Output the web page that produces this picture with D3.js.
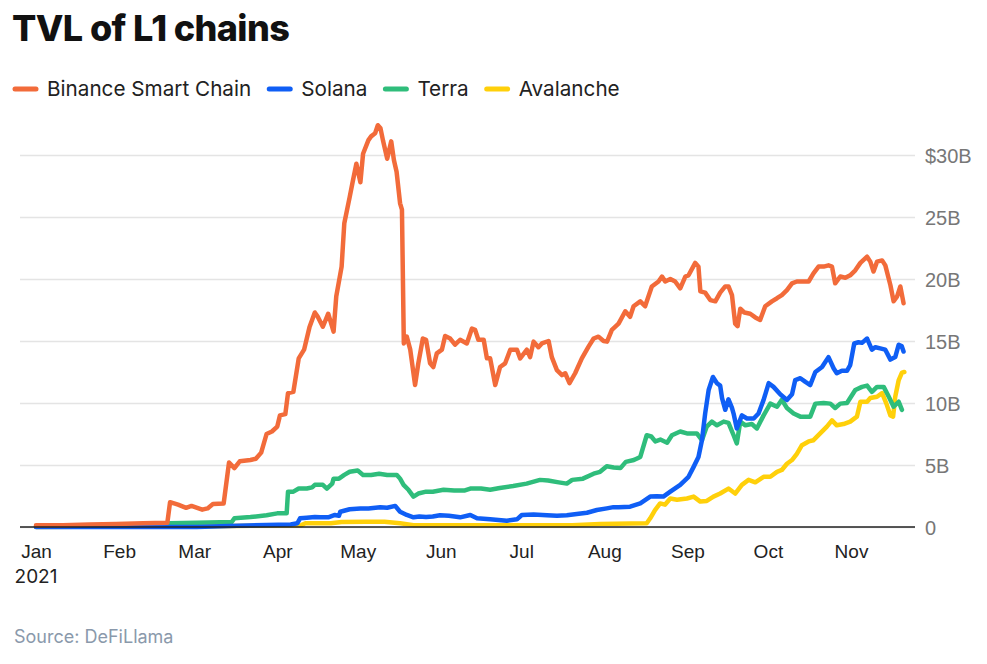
<!DOCTYPE html>
<html>
<head>
<meta charset="utf-8">
<script src="https://cdn.jsdelivr.net/npm/d3@7"></script>
<style>
  body { margin: 0; background: #fff; }
  svg { display: block; font-family: Inter, "Noto Sans", sans-serif; }
  .title { font-weight: 800; font-size: 36px; letter-spacing: -0.6px; fill: #111; }
  .legend text { font-size: 20.7px; fill: #222; }
  .axis--y text { font-size: 20px; fill: #777; }
  .axis--x text { font-size: 19px; fill: #222; }
  .source { font-size: 18px; fill: #8a99ab; }
</style>
</head>
<body>
<svg id="chart" width="987" height="664"></svg>
<script>
// TVL in $B, [day of 2021 (0 = Jan 1), value]
const bsc = [[0,0.15],[10,0.15],[20,0.2],[30,0.25],[40,0.3],[49,0.35],[50,2.0],[53,1.8],[56,1.55],[58,1.7],[62,1.4],[64,1.5],[66,1.85],[70,1.9],[72,5.2],[74,4.75],[76,5.3],[80,5.4],[82,5.5],[84,6.0],[86,7.5],[88,7.7],[90,8.1],[91,9.0],[93,9.1],[94,10.8],[96,10.9],[98,13.6],[100,14.3],[102,16.1],[104,17.3],[105,17.0],[107,16.15],[109,17.2],[111,15.75],[112,18.6],[114,21.0],[115,24.5],[117,26.6],[118,27.7],[119.5,29.3],[121,27.8],[122,30.1],[124,31.2],[125,31.5],[126.5,31.75],[127.5,32.4],[128.5,32.15],[129.5,31.1],[131,29.7],[132.5,31.1],[133.5,29.6],[134.5,28.65],[135.8,26.1],[136.5,25.6],[137.2,14.8],[138.3,15.35],[139.6,14.3],[141.4,11.45],[142.6,13.2],[144.3,15.2],[145.5,15.1],[147,13.2],[148.2,12.9],[149.5,14.0],[151.4,14.3],[152.6,15.4],[154.5,15.2],[156.3,14.7],[158.2,15.1],[160.7,14.8],[162.6,16.0],[163.8,15.9],[165,15.1],[167,15.1],[168.2,13.6],[169.4,13.6],[171.3,11.45],[173.1,12.9],[175,13.2],[176.9,14.3],[179.4,14.3],[180.6,13.6],[183.1,14.3],[184.3,13.7],[185.6,14.95],[187.4,14.5],[188.7,14.8],[191.2,15.0],[192.4,13.7],[194.3,12.65],[196.2,12.25],[197.4,12.4],[199,11.6],[201.1,12.4],[203.6,13.6],[206.1,14.55],[208,15.2],[209.8,15.35],[211.7,15.0],[213,14.95],[214.8,15.9],[217.3,16.4],[219.8,17.4],[221.6,16.95],[222.9,17.8],[225.4,18.2],[227.2,17.8],[229.7,19.4],[232.2,19.8],[233.5,20.2],[234.7,19.8],[236.6,20.0],[238.4,19.8],[240.3,19.25],[242.2,20.2],[243.4,20.3],[245.9,21.3],[247.1,21.0],[247.8,19.0],[249.6,18.9],[251.5,18.3],[253.4,18.2],[255.2,18.9],[257.1,19.4],[258.3,19.4],[259.6,18.7],[260.8,16.4],[261.7,16.2],[262.7,17.6],[264.2,17.3],[266.4,17.2],[268.3,16.9],[270.1,16.7],[272,17.8],[274.5,18.2],[276.4,18.45],[278.2,18.7],[280.1,19.1],[282,19.65],[283.8,19.8],[286.3,19.8],[288.2,19.8],[290,20.45],[291.9,21.0],[293.8,21.0],[295.6,21.1],[296.9,21.0],[298.1,19.65],[300,20.2],[301.9,20.1],[303.7,20.3],[305.6,20.7],[307.5,21.3],[310,21.8],[311.2,21.4],[312.4,20.6],[313.7,21.4],[315.6,21.5],[316.8,21.1],[318.7,19.5],[319.9,18.2],[321.2,18.6],[322.4,19.4],[323.6,18.05]];

const solana = [[0,0],[60,0],[75,0.1],[95,0.2],[97.5,0.3],[98.5,0.7],[101,0.75],[104,0.8],[106,0.78],[109,0.78],[111.5,0.97],[113,0.9],[113.5,1.23],[117,1.43],[121,1.5],[124,1.5],[128.4,1.59],[131,1.55],[134,1.7],[135.8,1.23],[138.3,0.97],[140.8,0.78],[143,0.85],[145.5,0.8],[148,0.85],[150.7,0.95],[154,0.9],[158.2,0.78],[162,0.97],[164.5,0.7],[169.4,0.62],[175.6,0.51],[179.4,0.62],[181.2,0.97],[185.6,1.0],[190.6,0.95],[194.3,0.9],[198,0.95],[201.7,1.05],[205.5,1.15],[209.2,1.37],[212.9,1.5],[215.4,1.6],[217.3,1.6],[221.6,1.64],[225.4,1.91],[229.1,2.45],[231.5,2.48],[234,2.45],[236.6,2.85],[240.3,3.4],[243.4,4.05],[245.3,4.85],[247.1,5.65],[248.4,7.0],[249.6,9.15],[250.9,11.05],[252.5,12.1],[254,11.6],[255.2,11.4],[255.9,10.4],[257.1,9.45],[258.3,10.3],[259.6,9.6],[260.2,9.15],[261.4,7.95],[263.3,9.0],[265.2,8.75],[267.7,8.75],[269.5,9.15],[271.4,10.25],[273.3,11.6],[275.1,11.3],[277.6,10.7],[280.1,10.25],[282,10.7],[283.2,11.85],[285.1,12.0],[287,11.7],[288.8,11.45],[290.7,12.5],[293.2,12.9],[295.6,13.7],[297.5,12.8],[298.7,12.4],[300.6,12.6],[302.5,12.6],[303.7,13.05],[305.2,14.8],[306.8,14.9],[308.1,14.85],[310,15.2],[311.8,14.3],[313.1,14.5],[314.9,14.4],[316.8,14.3],[318.7,13.5],[320.5,13.7],[321.8,14.7],[322.9,14.6],[323.6,14.15]];

const terra = [[0,0.05],[30,0.1],[50,0.3],[60,0.35],[73,0.4],[74,0.7],[80,0.8],[86,0.95],[90,1.1],[93.5,1.1],[94,2.85],[96,2.85],[98,3.1],[101,3.1],[103,3.2],[104,3.4],[107,3.4],[108.5,3.1],[110.5,3.5],[111,3.9],[113,3.9],[115,4.2],[117,4.45],[120,4.55],[122,4.2],[125,4.2],[128,4.3],[131,4.2],[134.6,4.2],[135.8,3.9],[137.1,3.4],[139,2.98],[140.8,2.45],[142.6,2.7],[145.5,2.85],[148,2.85],[152,3.0],[156,2.95],[160,2.95],[162,3.1],[166,3.1],[169.4,3.0],[173,3.15],[178,3.3],[183,3.5],[188,3.8],[191,3.75],[195,3.6],[198,3.5],[200,3.8],[204,3.9],[208,4.3],[210.4,4.45],[212.9,4.9],[215.5,4.8],[218,4.75],[220,5.25],[223,5.4],[225.4,5.65],[227.8,7.4],[229.5,7.3],[231,6.9],[232.9,7.05],[235.4,6.8],[237.2,7.4],[240.3,7.7],[242.8,7.55],[246.5,7.55],[248.4,7.0],[250.2,8.1],[252.1,8.5],[254,8.2],[256.5,8.5],[258.3,8.4],[260.2,7.4],[261.4,6.75],[262.7,8.5],[264.6,8.2],[267,8.3],[268.9,7.95],[271.4,9.0],[273.9,9.95],[276.4,9.7],[278.2,10.25],[280.1,9.6],[282.6,9.15],[285.1,8.9],[288.8,8.9],[290.7,9.95],[293.8,10.0],[296.3,9.95],[298.1,9.6],[300,9.95],[302.5,10.0],[305.6,11.05],[308.1,11.3],[310,11.4],[311.8,10.9],[313.7,11.3],[316.2,11.3],[318.1,10.5],[319.9,9.7],[321.8,10.1],[323,9.45]];

const avalanche = [[0,0],[30,0.05],[45,0.05],[60,0.05],[80,0.1],[99,0.15],[100.5,0.3],[110,0.3],[114,0.4],[123,0.43],[130,0.43],[135.8,0.3],[140.8,0.15],[160,0.15],[200,0.15],[210.4,0.25],[227.8,0.3],[229.1,0.7],[230.9,1.37],[232.8,1.9],[234.6,1.8],[236.6,2.3],[239.1,2.2],[242.8,2.3],[245.3,2.45],[247.8,2.05],[250.2,2.1],[252.7,2.45],[255.2,2.7],[258.3,3.1],[260.8,2.7],[263.3,3.4],[265.8,3.8],[268.3,3.6],[271.4,4.05],[273.9,4.05],[276.4,4.45],[278.2,4.6],[280.1,5.1],[282,5.4],[283.8,5.9],[285.7,6.6],[288.2,6.9],[290,7.0],[292.5,7.55],[295,8.1],[296.9,8.6],[298.7,8.2],[301.2,8.3],[303.7,8.5],[306.2,8.9],[307.5,10.1],[310,10.1],[311.2,10.4],[313.7,10.5],[315.6,10.8],[317.2,9.95],[318.7,9.0],[319.7,8.9],[320.5,10.5],[321.8,11.85],[323,12.45],[323.9,12.5]];

const seriesNames = ['Binance Smart Chain', 'Solana', 'Terra', 'Avalanche'];
const seriesColors = ['#f26b3a', '#0f5ef5', '#2fbd7b', '#ffd00a'];
const yTickValues = [0, 5, 10, 15, 20, 25, 30];
const yTickLabels = ['0', '5B', '10B', '15B', '20B', '25B', '$30B'];

let svg = d3.select('#chart');
let start = new Date(2021, 0, 1);
let toDate = (day) => new Date(start.getTime() + day * 864e5);

let x = d3.scaleTime().domain([start, new Date(2021, 10, 1)]).range([36, 851]);
let y = d3.scaleLinear().domain([0, 30]).range([527, 155]);
let left = 20, right = 915;

svg.append('text').attr('class', 'title').attr('x', 12).attr('y', 41).text('TVL of L1 chains');

// legend
let lx = 13;
let legend = svg.append('g').attr('class', 'legend');
seriesNames.forEach((name, i) => {
	legend.append('line')
		.attr('x1', lx + 2).attr('x2', lx + 23).attr('y1', 89).attr('y2', 89)
		.attr('stroke', seriesColors[i]).attr('stroke-width', 5).attr('stroke-linecap', 'round');
	let t = legend.append('text').attr('x', lx + 34).attr('y', 89).attr('dy', '0.35em').text(name);
	lx += 34 + t.node().getComputedTextLength() + 16;
});

// y axis with gridlines
let yAxis = svg.append('g')
	.attr('class', 'axis axis--y')
	.attr('transform', 'translate(' + right + ',0)')
	.call(d3.axisRight(y).tickValues(yTickValues)
		.tickFormat((d, i) => yTickLabels[i])
		.tickSize(-(right - left)).tickPadding(10));
yAxis.select('.domain').remove();
yAxis.selectAll('line').attr('stroke', '#e4e4e4').attr('stroke-width', 1.5);
yAxis.selectAll('text').attr('x', 10).attr('dy', '0.35em');

// x axis
let xAxis = svg.append('g')
	.attr('class', 'axis axis--x')
	.attr('transform', 'translate(0,' + y(0) + ')')
	.call(d3.axisBottom(x).ticks(d3.timeMonth.every(1)).tickFormat(d3.timeFormat('%b')).tickSize(0).tickPadding(18));
xAxis.select('.domain').remove();
xAxis.selectAll('text').attr('dy', '0.71em');
svg.append('text').attr('class', 'axis--x').attr('x', x(start)).attr('y', 583)
	.attr('text-anchor', 'middle').style('font-size', '19px').style('fill', '#222').text('2021');

// lines
let line = d3.line()
	.x((d) => x(toDate(d[0])))
	.y((d) => y(d[1]));

let drawOrder = [[avalanche, 3], [terra, 2], [solana, 1], [bsc, 0]];
drawOrder.forEach(([data, i]) => {
	svg.append('path')
		.datum(data)
		.attr('fill', 'none')
		.attr('stroke', seriesColors[i])
		.attr('stroke-width', 4.5)
		.attr('stroke-linejoin', 'round')
		.attr('stroke-linecap', 'round')
		.attr('d', line);
});

// baseline
svg.append('line')
	.attr('x1', left).attr('x2', right).attr('y1', y(0)).attr('y2', y(0))
	.attr('stroke', '#222').attr('stroke-width', 1.5);

svg.append('text').attr('class', 'source').attr('x', 14).attr('y', 643).text('Source: DeFiLlama');
</script>
</body>
</html>
